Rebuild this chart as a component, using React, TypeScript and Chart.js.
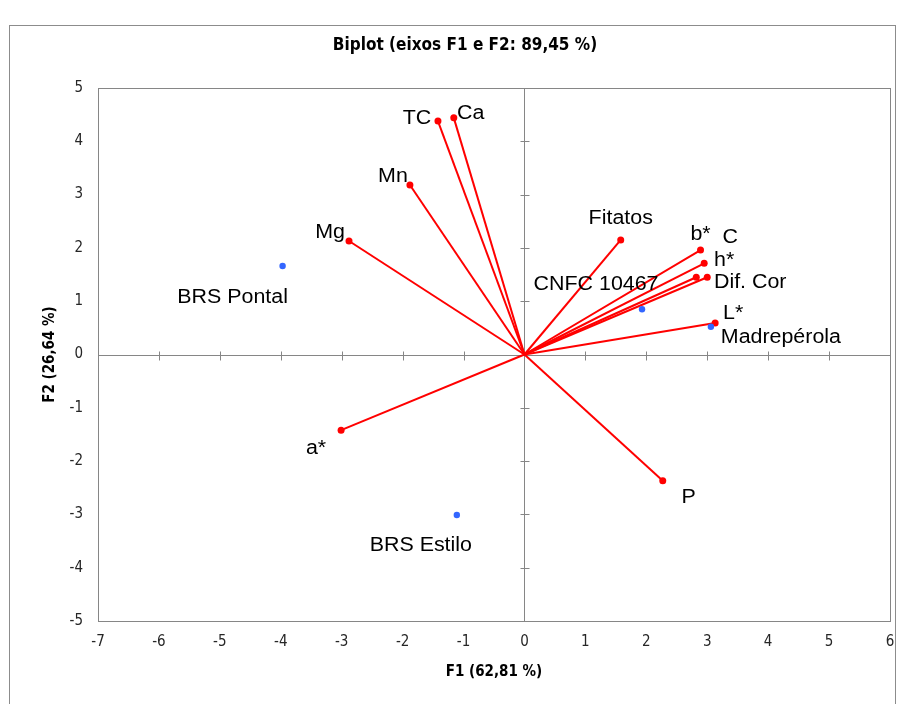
import React, { useEffect, useRef } from "react";
import { Chart, registerables } from "chart.js";

Chart.register(...registerables);

// ---- Data ----
const TITLE = "Biplot (eixos F1 e F2: 89,45 %)";
const X_TITLE = "F1 (62,81 %)";
const Y_TITLE = "F2 (26,64 %)";

const variableNames = ["TC", "Ca", "Mn", "Mg", "Fitatos", "b*", "C", "h*", "Dif. Cor", "L*", "a*", "P"];
const variableF1 = [-1.42, -1.16, -1.88, -2.88, 1.58, 2.89, 2.82, 2.95, 3.0, 3.13, -3.01, 2.27];
const variableF2 = [4.38, 4.44, 3.18, 2.13, 2.15, 1.96, 1.45, 1.71, 1.45, 0.59, -1.42, -2.37];

const observationNames = ["BRS Pontal", "CNFC 10467", "Madrepérola", "BRS Estilo"];
const observationF1 = [-3.97, 1.93, 3.06, -1.11];
const observationF2 = [1.66, 0.85, 0.52, -3.01];

const xTickValues = [-7, -6, -5, -4, -3, -2, -1, 0, 1, 2, 3, 4, 5, 6];
const yTickValues = [-5, -4, -3, -2, -1, 0, 1, 2, 3, 4, 5];

// ---- Layout / style (label offsets in px from the point) ----
const LABEL_OFFSETS: Record<string, [number, number]> = {
  TC: [-21, -4],
  Ca: [17, -5],
  Mn: [-17, -10],
  Mg: [-19, -9],
  Fitatos: [0, -22],
  "b*": [0, -17],
  C: [34, -41],
  "h*": [20, -4],
  "Dif. Cor": [43, 4],
  "L*": [18, -11],
  "a*": [-25, 17],
  P: [26, 16],
  "BRS Pontal": [-50, 30],
  "CNFC 10467": [-46, -26],
  "Madrepérola": [70, 10],
  "BRS Estilo": [-36, 30],
};

const RED = "#ff0000";
const BLUE = "#3366ff";
const AXIS_GRAY = "#868686";
const NARROW = "'Liberation Sans Narrow', 'DejaVu Sans Condensed', 'Noto Sans', sans-serif";
const LABEL_FONT = "20px 'Liberation Sans', Arial, sans-serif";

const decorPlugin = {
  id: "biplotDecor",
  beforeDatasetsDraw(chart: any) {
    const { ctx, chartArea } = chart;
    const xs = chart.scales.x;
    const ys = chart.scales.y;
    ctx.save();
    ctx.strokeStyle = AXIS_GRAY;
    ctx.lineWidth = 1;
    ctx.strokeRect(
      Math.round(chartArea.left) + 0.5,
      Math.round(chartArea.top) + 0.5,
      Math.round(chartArea.right - chartArea.left),
      Math.round(chartArea.bottom - chartArea.top)
    );
    const x0 = Math.round(xs.getPixelForValue(0)) + 0.5;
    const y0 = Math.round(ys.getPixelForValue(0)) + 0.5;
    ctx.beginPath();
    ctx.moveTo(x0, chartArea.top);
    ctx.lineTo(x0, chartArea.bottom);
    ctx.moveTo(chartArea.left, y0);
    ctx.lineTo(chartArea.right, y0);
    yTickValues.forEach((v) => {
      const py = Math.round(ys.getPixelForValue(v)) + 0.5;
      ctx.moveTo(x0 - 4, py);
      ctx.lineTo(x0 + 5, py);
    });
    xTickValues.forEach((v) => {
      const px = Math.round(xs.getPixelForValue(v)) + 0.5;
      ctx.moveTo(px, y0 - 4);
      ctx.lineTo(px, y0 + 5);
    });
    ctx.stroke();
    ctx.restore();
  },
  afterDatasetsDraw(chart: any) {
    const { ctx } = chart;
    const xs = chart.scales.x;
    const ys = chart.scales.y;
    ctx.save();
    ctx.fillStyle = "#000000";
    ctx.font = LABEL_FONT;
    ctx.textAlign = "center";
    ctx.textBaseline = "middle";
    const drawLabel = (name: string, vx: number, vy: number) => {
      const off = LABEL_OFFSETS[name] || [0, 0];
      const px = xs.getPixelForValue(vx) + off[0];
      const py = ys.getPixelForValue(vy) + off[1];
      ctx.save();
      ctx.translate(px, py);
      ctx.scale(1.07, 1);
      ctx.fillText(name, 0, 1);
      ctx.restore();
    };
    variableNames.forEach((n, i) => drawLabel(n, variableF1[i], variableF2[i]));
    observationNames.forEach((n, i) => drawLabel(n, observationF1[i], observationF2[i]));
    ctx.restore();
  },
  afterDraw(chart: any) {
    const { ctx, chartArea } = chart;
    ctx.save();
    ctx.fillStyle = "#000000";
    ctx.textAlign = "center";
    ctx.textBaseline = "middle";
    ctx.font = `bold 17px ${NARROW}`;
    ctx.fillText(TITLE, 465, 46);
    ctx.font = `bold 15px ${NARROW}`;
    ctx.fillText(X_TITLE, (chartArea.left + chartArea.right) / 2, 672);
    ctx.translate(50, (chartArea.top + chartArea.bottom) / 2);
    ctx.rotate(-Math.PI / 2);
    ctx.fillText(Y_TITLE, 0, 0);
    ctx.restore();
  },
};

export default function App() {
  const canvasRef = useRef<HTMLCanvasElement | null>(null);

  useEffect(() => {
    if (!canvasRef.current) return;
    const variableDatasets = variableNames.map((name, i) => ({
      label: name,
      data: [
        { x: 0, y: 0 },
        { x: variableF1[i], y: variableF2[i] },
      ],
      showLine: true,
      borderColor: RED,
      borderWidth: 2,
      pointRadius: [0, 3.5],
      pointBackgroundColor: RED,
      pointBorderWidth: 0,
      pointHoverRadius: 0,
    }));
    const observationDataset = {
      label: "Observações",
      data: observationF1.map((x, i) => ({ x, y: observationF2[i] })),
      showLine: false,
      pointRadius: 3.2,
      pointBackgroundColor: BLUE,
      pointBorderWidth: 0,
      borderColor: BLUE,
    };

    const chart = new Chart(canvasRef.current, {
      type: "scatter",
      data: { datasets: [observationDataset as any, ...(variableDatasets as any)] },
      options: {
        animation: false,
        responsive: false,
        maintainAspectRatio: false,
        layout: { padding: { top: 88, right: 12, left: 0, bottom: 0 } },
        plugins: {
          legend: { display: false },
          title: { display: false },
          tooltip: { enabled: false },
        },
        scales: {
          x: {
            type: "linear",
            position: "bottom",
            min: -7,
            max: 6,
            afterBuildTicks: (scale: any) => {
              scale.ticks = xTickValues.map((v) => ({ value: v }));
            },
            afterFit: (scale: any) => {
              scale.height = 83;
              scale.paddingLeft = 0;
              scale.paddingRight = 0;
            },
            ticks: {
              color: "#262626",
              font: { family: NARROW, size: 15 },
              padding: 12,
              maxRotation: 0,
              autoSkip: false,
            },
            grid: { display: false, drawTicks: false },
            border: { display: false },
          },
          y: {
            type: "linear",
            position: "left",
            min: -5,
            max: 5,
            afterBuildTicks: (scale: any) => {
              scale.ticks = yTickValues.map((v) => ({ value: v }));
            },
            afterFit: (scale: any) => {
              scale.width = 98;
              scale.paddingTop = 0;
              scale.paddingBottom = 0;
            },
            ticks: {
              color: "#262626",
              font: { family: NARROW, size: 15 },
              padding: 15,
              autoSkip: false,
            },
            grid: { display: false, drawTicks: false },
            border: { display: false },
          },
        },
      },
      plugins: [decorPlugin],
    });
    return () => chart.destroy();
  }, []);

  return (
    <div
      style={{
        position: "absolute",
        left: 0,
        top: 0,
        width: 902,
        height: 704,
        overflow: "hidden",
        background: "#ffffff",
      }}
    >
      <div
        style={{
          position: "absolute",
          left: 9,
          top: 25,
          width: 887,
          height: 720,
          border: "1px solid #8c8c8c",
          boxSizing: "border-box",
        }}
      />
      <canvas
        ref={canvasRef}
        width={902}
        height={704}
        style={{ position: "absolute", left: 0, top: 0, width: 902, height: 704 }}
      />
    </div>
  );
}
